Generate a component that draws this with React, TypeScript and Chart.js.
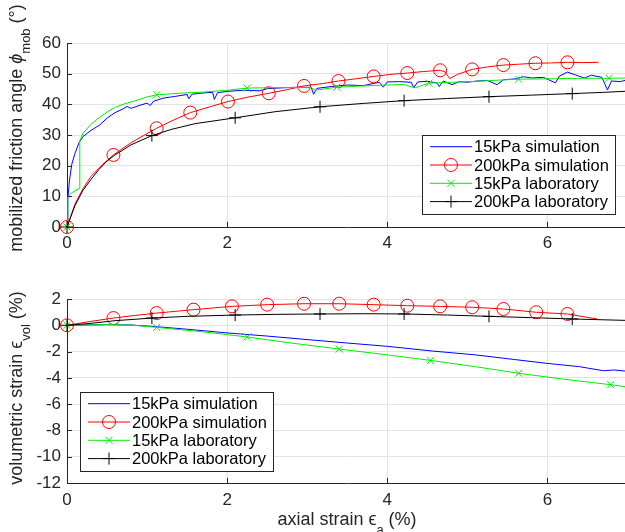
import { useEffect, useRef } from 'react';
import { Chart, registerables } from 'chart.js';
Chart.register(...registerables);

const FONT = '"Liberation Sans", Arial, Helvetica, sans-serif';
const AXIS_COLOR = '#262626';
const GRID_COLOR = '#e3e3e3';
const CANVAS_W = 635;

// ---------- shared ----------
const xTicks = [0, 2, 4, 6];
const seriesNames = ['15kPa simulation', '200kPa simulation', '15kPa laboratory', '200kPa laboratory'];
const seriesColors = ['#0000ff', '#ff0000', '#00ee00', '#000000'];
const seriesMarkers = ['none', 'circle', 'crossRot', 'cross'];

// ---------- top plot: mobilized friction angle ----------
const topYTicks = [0, 10, 20, 30, 40, 50, 60];

const sim15TopX = [0, 0.01, 0.03, 0.06, 0.1, 0.15, 0.2, 0.3, 0.41, 0.5, 0.6, 0.7, 0.75, 0.8, 0.9, 1.0, 1.04, 1.08, 1.2, 1.35, 1.5, 1.52, 1.56, 1.7, 1.82, 1.84, 1.88, 2.0, 2.2, 2.4, 2.5, 2.7, 2.9, 3.05, 3.08, 3.12, 3.3, 3.5, 3.7, 3.9, 3.95, 4.0, 4.15, 4.3, 4.33, 4.38, 4.5, 4.62, 4.65, 4.7, 4.81, 4.9, 5.0, 5.12, 5.25, 5.37, 5.45, 5.6, 5.7, 5.8, 5.95, 6.1, 6.15, 6.25, 6.35, 6.46, 6.55, 6.68, 6.75, 6.8, 6.91, 7.0];
const sim15TopY = [0, 9, 15, 20.5, 24, 27.5, 29.5, 31.5, 33.3, 35.5, 37.3, 38.5, 39.3, 38.7, 39.6, 40.4, 39.6, 41.0, 42.0, 42.6, 43.2, 41.8, 43.3, 43.7, 43.9, 41.6, 43.8, 44.2, 44.6, 44.4, 45.1, 45.4, 45.6, 45.5, 43.3, 45.2, 45.8, 46.3, 46.1, 47.2, 45.6, 47.3, 47.4, 47.2, 45.4, 47.3, 47.5, 47.0, 45.8, 47.6, 46.4, 47.4, 47.2, 47.6, 47.8, 46.4, 48.0, 48.3, 49.0, 48.6, 48.8, 47.0, 49.2, 50.5, 49.6, 48.6, 49.5, 48.8, 44.7, 47.6, 47.4, 48.0];

const sim200TopX = [0, 0.1, 0.2, 0.3, 0.45, 0.58, 0.8, 1.12, 1.3, 1.54, 1.8, 2.01, 2.25, 2.52, 2.75, 2.96, 3.2, 3.39, 3.6, 3.83, 4.05, 4.25, 4.45, 4.66, 4.72, 4.78, 4.88, 5.06, 5.25, 5.45, 5.65, 5.85, 6.05, 6.25, 6.45, 6.64];
const sim200TopY = [0, 7.5, 12.5, 16.5, 20.5, 23.5, 27.5, 32.2, 34.5, 37.3, 39.3, 40.9, 42.3, 43.6, 44.8, 46.0, 46.8, 47.6, 48.3, 49.1, 49.8, 50.2, 50.7, 51.1, 50.6, 48.4, 49.8, 51.4, 52.2, 52.8, 53.1, 53.4, 53.5, 53.7, 53.6, 53.7];
const sim200TopMarkerX = [0, 0.58, 1.12, 1.54, 2.01, 2.52, 2.96, 3.39, 3.83, 4.25, 4.66, 5.06, 5.45, 5.85, 6.25];

const lab15TopX = [0, 0.01, 0.05, 0.1, 0.15, 0.16, 0.2, 0.3, 0.41, 0.5, 0.6, 0.7, 0.83, 1.0, 1.12, 1.4, 1.7, 2.0, 2.25, 2.5, 2.8, 3.05, 3.1, 3.37, 3.7, 4.0, 4.2, 4.35, 4.52, 4.8, 5.1, 5.4, 5.64, 6.0, 6.4, 6.77, 7.0];
const lab15TopY = [0, 10, 11, 11.8, 12.5, 28, 30.6, 33.5, 35.8, 37.5, 39, 40, 41, 42.4, 43.1, 43.6, 44.0, 44.6, 45.3, 45.4, 45.5, 45.4, 44.6, 45.6, 46.0, 46.3, 46.5, 45.4, 46.9, 47.2, 47.5, 47.9, 48.2, 48.3, 48.5, 48.5, 48.6];
const lab15TopMarkerX = [0, 1.12, 2.25, 3.37, 4.52, 5.64, 6.77];

const lab200TopX = [0, 0.05, 0.1, 0.2, 0.3, 0.4, 0.5, 0.6, 0.8, 1.06, 1.3, 1.6, 2.1, 2.6, 3.16, 3.7, 4.21, 4.75, 5.27, 5.8, 6.31, 6.7, 7.0];
const lab200TopY = [0, 3.5, 7, 12, 15.5, 18.8, 21.5, 23.5, 26.8, 29.8, 31.8, 33.7, 35.6, 37.6, 39.2, 40.3, 41.2, 41.9, 42.5, 43.0, 43.5, 43.9, 44.3];
const lab200TopMarkerX = [0, 1.06, 2.1, 3.16, 4.21, 5.27, 6.31];

// ---------- bottom plot: volumetric strain ----------
const bottomYTicks = [-12, -10, -8, -6, -4, -2, 0, 2];

const sim15BotX = [0, 0.5, 0.8, 1.1, 1.5, 2.0, 2.5, 2.91, 3.5, 4.0, 4.58, 5.1, 5.58, 6.0, 6.4, 6.7, 6.83, 7.0];
const sim15BotY = [0, 0.05, 0.02, -0.1, -0.3, -0.58, -0.82, -1.04, -1.35, -1.6, -1.97, -2.25, -2.6, -2.9, -3.15, -3.46, -3.4, -3.5];

const sim200BotX = [0, 0.3, 0.58, 0.85, 1.12, 1.58, 2.06, 2.5, 2.96, 3.4, 3.83, 4.25, 4.66, 5.06, 5.45, 5.86, 6.25, 6.62];
const sim200BotY = [0, 0.3, 0.55, 0.75, 0.93, 1.19, 1.44, 1.57, 1.64, 1.64, 1.57, 1.49, 1.44, 1.37, 1.24, 0.99, 0.86, 0.48];
const sim200BotMarkerX = [0, 0.58, 1.12, 1.58, 2.06, 2.5, 2.96, 3.4, 3.83, 4.25, 4.66, 5.06, 5.45, 5.86, 6.25];

const lab15BotX = [0, 0.5, 0.8, 1.12, 1.7, 2.25, 2.8, 3.4, 4.0, 4.54, 5.1, 5.64, 6.2, 6.79, 7.0];
const lab15BotY = [0, 0.05, 0.02, -0.16, -0.5, -0.89, -1.35, -1.81, -2.25, -2.67, -3.15, -3.65, -4.1, -4.52, -4.7];
const lab15BotMarkerX = [0, 1.12, 2.25, 3.4, 4.54, 5.64, 6.79];

const lab200BotX = [0, 0.3, 0.6, 1.06, 1.5, 2.1, 2.6, 3.16, 3.7, 4.21, 4.75, 5.27, 5.8, 6.31, 7.0];
const lab200BotY = [0, 0.15, 0.35, 0.55, 0.68, 0.78, 0.83, 0.86, 0.88, 0.86, 0.78, 0.68, 0.58, 0.48, 0.37];
const lab200BotMarkerX = [0, 1.06, 2.1, 3.16, 4.21, 5.27, 6.31];

// ---------- helpers ----------
type Seg = { text: string; size: number; italic?: boolean; dy?: number };

function markerRadius(style: string) {
  if (style === 'circle') return 6.5;
  if (style === 'crossRot') return 5;
  if (style === 'cross') return 6;
  return 0;
}

function makeDataset(idx: number, xs: number[], ys: number[], markerXs: number[]) {
  const style = seriesMarkers[idx];
  const set = new Set(markerXs);
  const r = markerRadius(style);
  return {
    label: seriesNames[idx],
    data: xs.map((x, i) => ({ x, y: ys[i] })),
    showLine: true,
    borderColor: seriesColors[idx],
    backgroundColor: 'rgba(0,0,0,0)',
    borderWidth: 1,
    pointStyle: style === 'none' ? 'circle' : style,
    pointRadius: (ctx: any) => (set.has(xs[ctx.dataIndex]) ? r : 0),
    pointBorderWidth: 1,
    pointBorderColor: seriesColors[idx],
    pointBackgroundColor: 'rgba(0,0,0,0)',
    pointHoverRadius: 0,
    tension: 0,
    clip: false as const,
  };
}

function drawSegs(ctx: CanvasRenderingContext2D, segs: Seg[], cx: number, cy: number, rotate: boolean) {
  ctx.save();
  ctx.translate(cx, cy);
  if (rotate) ctx.rotate(-Math.PI / 2);
  ctx.fillStyle = AXIS_COLOR;
  ctx.textBaseline = 'alphabetic';
  ctx.textAlign = 'left';
  let total = 0;
  for (const s of segs) {
    ctx.font = `${s.italic ? 'italic ' : ''}${s.size}px ${FONT}`;
    total += ctx.measureText(s.text).width;
  }
  let x = -total / 2;
  for (const s of segs) {
    ctx.font = `${s.italic ? 'italic ' : ''}${s.size}px ${FONT}`;
    ctx.fillText(s.text, x, 6 + (s.dy || 0));
    x += ctx.measureText(s.text).width;
  }
  ctx.restore();
}

function drawMarker(ctx: CanvasRenderingContext2D, style: string, x: number, y: number, color: string) {
  const r = markerRadius(style);
  ctx.save();
  ctx.strokeStyle = color;
  ctx.lineWidth = 1;
  ctx.beginPath();
  if (style === 'circle') {
    ctx.arc(x, y, r, 0, Math.PI * 2);
  } else if (style === 'crossRot') {
    const d = r * Math.SQRT1_2;
    ctx.moveTo(x - d, y - d); ctx.lineTo(x + d, y + d);
    ctx.moveTo(x + d, y - d); ctx.lineTo(x - d, y + d);
  } else if (style === 'cross') {
    ctx.moveTo(x, y - r); ctx.lineTo(x, y + r);
    ctx.moveTo(x - r, y); ctx.lineTo(x + r, y);
  }
  ctx.stroke();
  ctx.restore();
}

function decorPlugin(opts: { legendX: number; legendY: number; yLabel: Seg[]; yLabelCY: number; xLabel?: Seg[]; xLabelY?: number; xLabelCX?: number }) {
  return {
    id: 'decor',
    afterDraw(chart: any) {
      const ctx: CanvasRenderingContext2D = chart.ctx;
      const area = chart.chartArea;
      const xs = chart.scales.x;
      const ys = chart.scales.y;
      // inward ticks
      ctx.save();
      ctx.strokeStyle = AXIS_COLOR;
      ctx.lineWidth = 1;
      ctx.beginPath();
      for (const t of xs.ticks) {
        const px = Math.round(xs.getPixelForValue(t.value)) + 0.5;
        ctx.moveTo(px, area.bottom);
        ctx.lineTo(px, area.bottom - 5);
      }
      for (const t of ys.ticks) {
        const py = Math.round(ys.getPixelForValue(t.value)) + 0.5;
        ctx.moveTo(area.left, py);
        ctx.lineTo(area.left + 5, py);
      }
      ctx.stroke();
      ctx.restore();

      // legend
      const lx = opts.legendX, ly = opts.legendY, lw = 193, lh = 79;
      ctx.save();
      ctx.fillStyle = '#ffffff';
      ctx.fillRect(lx, ly, lw, lh);
      ctx.strokeStyle = AXIS_COLOR;
      ctx.lineWidth = 1;
      ctx.strokeRect(lx + 0.5, ly + 0.5, lw, lh);
      ctx.font = `16.5px ${FONT}`;
      ctx.textBaseline = 'middle';
      ctx.textAlign = 'left';
      for (let i = 0; i < seriesNames.length; i++) {
        const ry = ly + 11.7 + i * 18.3;
        ctx.strokeStyle = seriesColors[i];
        ctx.beginPath();
        ctx.moveTo(lx + 8, ry);
        ctx.lineTo(lx + 50, ry);
        ctx.stroke();
        drawMarker(ctx, seriesMarkers[i], lx + 29, ry, seriesColors[i]);
        ctx.fillStyle = '#000000';
        ctx.fillText(seriesNames[i], lx + 52, ry + 1);
      }
      ctx.restore();

      // axis titles
      drawSegs(ctx, opts.yLabel, 16, opts.yLabelCY, true);
      if (opts.xLabel && opts.xLabelY !== undefined) {
        drawSegs(ctx, opts.xLabel, opts.xLabelCX ?? (area.left + area.right) / 2, opts.xLabelY, false);
      }
    },
  };
}

function makeOptions(yMin: number, yMax: number, yTicks: number[], padTop: number, xAxisHeight: number, xTickPad: number) {
  return {
    responsive: false,
    animation: false as const,
    events: [],
    layout: { padding: { top: padTop, left: 0, right: 0, bottom: 0 } },
    plugins: { legend: { display: false }, tooltip: { enabled: false } },
    scales: {
      x: {
        type: 'linear' as const,
        min: 0,
        max: 7,
        afterBuildTicks: (axis: any) => { axis.ticks = xTicks.map((v) => ({ value: v })); },
        afterFit: (axis: any) => { axis.height = xAxisHeight; axis.paddingLeft = 0; axis.paddingRight = 0; },
        grid: { color: GRID_COLOR, drawTicks: false, lineWidth: 1 },
        border: { color: AXIS_COLOR, width: 1 },
        ticks: { padding: xTickPad, color: AXIS_COLOR, font: { family: FONT, size: 17 }, maxRotation: 0 },
      },
      y: {
        type: 'linear' as const,
        min: yMin,
        max: yMax,
        afterBuildTicks: (axis: any) => { axis.ticks = yTicks.map((v) => ({ value: v })); },
        afterFit: (axis: any) => { axis.width = 67; axis.paddingTop = 0; axis.paddingBottom = 0; },
        grid: { color: GRID_COLOR, drawTicks: false, lineWidth: 1 },
        border: { color: AXIS_COLOR, width: 1 },
        ticks: { padding: 6, color: AXIS_COLOR, font: { family: FONT, size: 17 } },
      },
    },
  };
}

export default function App() {
  const topRef = useRef<HTMLCanvasElement>(null);
  const botRef = useRef<HTMLCanvasElement>(null);

  useEffect(() => {
    document.body.style.margin = '0';
    const top = new Chart(topRef.current!, {
      type: 'scatter',
      data: {
        datasets: [
          makeDataset(0, sim15TopX, sim15TopY, []),
          makeDataset(1, sim200TopX, sim200TopY, sim200TopMarkerX),
          makeDataset(2, lab15TopX, lab15TopY, lab15TopMarkerX),
          makeDataset(3, lab200TopX, lab200TopY, lab200TopMarkerX),
        ].reverse() as any,
      },
      options: makeOptions(0, 60, topYTicks, 43, 33, 6) as any,
      plugins: [
        decorPlugin({
          legendX: 422,
          legendY: 135,
          yLabel: [
            { text: 'mobilized friction angle ', size: 18 },
            { text: 'ϕ', size: 18, italic: true },
            { text: 'mob', size: 13, dy: 8 },
            { text: ' (°)', size: 18 },
          ],
          yLabelCY: 128,
        }),
      ] as any,
    });
    const bot = new Chart(botRef.current!, {
      type: 'scatter',
      data: {
        datasets: [
          makeDataset(0, sim15BotX, sim15BotY, []),
          makeDataset(1, sim200BotX, sim200BotY, sim200BotMarkerX),
          makeDataset(2, lab15BotX, lab15BotY, lab15BotMarkerX),
          makeDataset(3, lab200BotX, lab200BotY, lab200BotMarkerX),
        ].reverse() as any,
      },
      options: makeOptions(-12, 2, bottomYTicks, 39, 49, 7) as any,
      plugins: [
        decorPlugin({
          legendX: 80,
          legendY: 132,
          yLabel: [
            { text: 'volumetric strain ', size: 18 },
            { text: 'ϵ', size: 18 },
            { text: 'vol', size: 13, dy: 8 },
            { text: ' (%)', size: 18 },
          ],
          yLabelCY: 128,
          xLabel: [
            { text: 'axial strain ', size: 18 },
            { text: 'ϵ', size: 18 },
            { text: 'a', size: 13, dy: 9 },
            { text: ' (%)', size: 18 },
          ],
          xLabelY: 259,
          xLabelCX: 347,
        }),
      ] as any,
    });
    return () => {
      top.destroy();
      bot.destroy();
    };
  }, []);

  return (
    <div style={{ position: 'relative', width: 625, height: 532, overflow: 'hidden', background: '#ffffff' }}>
      <canvas ref={topRef} width={CANVAS_W} height={260} style={{ position: 'absolute', left: 0, top: 0, width: CANVAS_W, height: 260 }} />
      <canvas ref={botRef} width={CANVAS_W} height={272} style={{ position: 'absolute', left: 0, top: 260, width: CANVAS_W, height: 272 }} />
    </div>
  );
}
